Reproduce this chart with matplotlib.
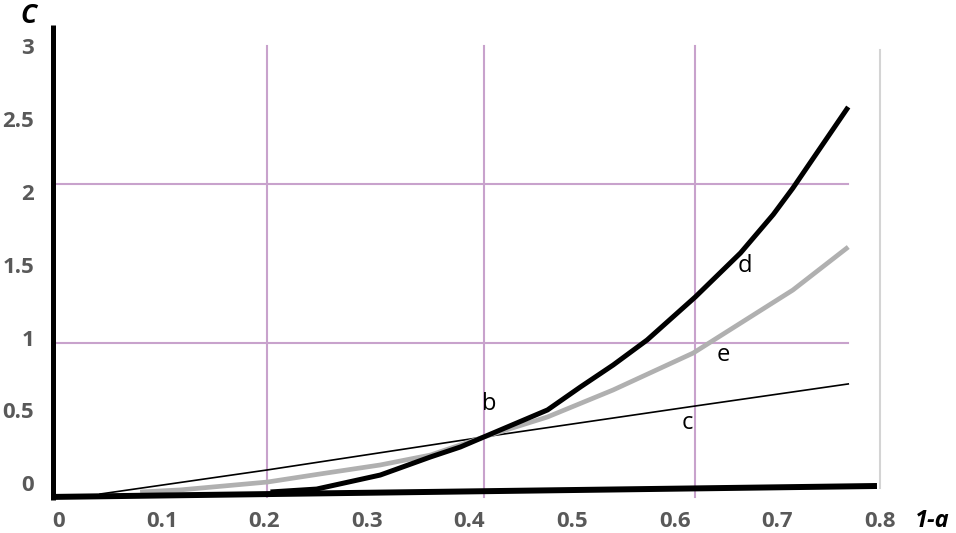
import matplotlib.pyplot as plt

# curve c (thin straight line)
c_x = [0.040, 0.203, 0.414, 0.620, 0.769]
c_y = [-0.055, 0.110, 0.336, 0.548, 0.699]

# curve e (grey)
e_x = [0.079, 0.118, 0.203, 0.254, 0.313, 0.362, 0.414, 0.476, 0.540, 0.618, 0.715, 0.769]
e_y = [-0.041, -0.027, 0.027, 0.082, 0.144, 0.212, 0.336, 0.473, 0.658, 0.911, 1.342, 1.637]

# curve d (thick black)
d_x = [0.206, 0.251, 0.313, 0.362, 0.391, 0.414, 0.476, 0.508, 0.540, 0.573,
       0.620, 0.664, 0.696, 0.715, 0.769]
d_y = [-0.041, -0.021, 0.075, 0.199, 0.267, 0.336, 0.521, 0.678, 0.829, 1.000,
       1.295, 1.596, 1.860, 2.040, 2.596]

# hand drawn frame and grid
baseline_x = [-0.007, 0.797]
baseline_y = [-0.075, 0.0]
vgrid_x = [0.203, 0.414, 0.620]
hgrid_y = [0.979, 2.068]
edge_x = 0.800

xtick_labels = ["0", "0.1", "0.2", "0.3", "0.4", "0.5", "0.6", "0.7", "0.8"]
xtick_vals = [0, 0.1, 0.2, 0.3, 0.4, 0.5, 0.6, 0.7, 0.8]
ytick_labels = ["0", "0.5", "1", "1.5", "2", "2.5", "3"]
ytick_vals = [0, 0.5, 1, 1.5, 2, 2.5, 3]

# curve letters
letters = ["b", "c", "d", "e"]
letter_x = [0.419, 0.612, 0.668, 0.647]
letter_y = [0.562, 0.432, 1.507, 0.897]

plt.rcParams['font.family'] = ['Open Sans', 'DejaVu Sans']

fig = plt.figure(figsize=(9.56, 5.33), dpi=100)
ax = fig.add_axes([0, 0, 1, 1])
ax.set_xlim(-0.0575, 0.874)
ax.set_ylim(-0.322, 3.329)
ax.axis('off')

purple = '#c8a2cc'
for gx in vgrid_x:
    ax.plot([gx, gx], [-0.075, 3.014], color=purple, lw=1.5, zorder=1)
for gy in hgrid_y:
    ax.plot([-0.006, 0.769], [gy, gy], color=purple, lw=1.5, zorder=1)
ax.plot([edge_x, edge_x], [-0.014, 2.986], color='#d4d4d4', lw=1.5, zorder=1)

ax.plot(c_x, c_y, color='black', lw=1.2, zorder=3)
ax.plot(e_x, e_y, color='#b0b0b0', lw=3.4, zorder=3,
        solid_capstyle='butt', solid_joinstyle='round')
ax.plot(d_x, d_y, color='black', lw=3.6, zorder=4,
        solid_capstyle='butt', solid_joinstyle='round')

# axes lines
ax.plot(baseline_x, baseline_y, color='black', lw=4.3, zorder=5, solid_capstyle='butt')
ax.plot([-0.0063, -0.0063], [-0.096, 3.158], color='black', lw=3.6, zorder=5,
        solid_capstyle='butt')

for v, t in zip(xtick_vals, xtick_labels):
    ax.text(v, -0.24, t, ha='center', va='center', fontsize=16,
            fontweight='bold', color='#595959')
for v, t in zip(ytick_vals, ytick_labels):
    ax.text(-0.0244, v, t, ha='right', va='center', fontsize=16,
            fontweight='bold', color='#595959')

for t, x, y in zip(letters, letter_x, letter_y):
    ax.text(x, y, t, ha='center', va='center', fontsize=17, color='black')

ax.text(-0.0302, 3.226, "C", ha='center', va='center', fontsize=19,
        fontweight='bold', fontstyle='italic', color='black')
ax.text(0.8507, -0.24, "1-a", ha='center', va='center', fontsize=17,
        fontweight='bold', fontstyle='italic', color='black')

fig.savefig("out.png", dpi=100)
